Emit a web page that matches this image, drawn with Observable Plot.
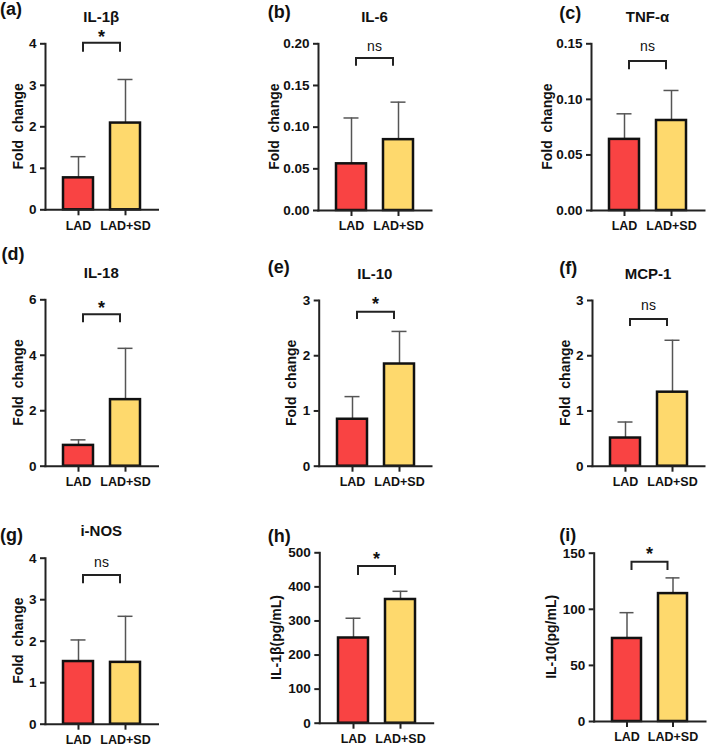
<!DOCTYPE html>
<html><head><meta charset="utf-8">
<script src="https://cdn.jsdelivr.net/npm/d3@7"></script>
<script src="https://cdn.jsdelivr.net/npm/@observablehq/plot@0.6"></script>
<style>
html,body{margin:0;padding:0;background:#fff;}
#fig{position:relative;width:709px;height:746px;overflow:hidden;font-family:"Liberation Sans",Arial,sans-serif;}
#fig svg{position:absolute;}
</style></head><body><div id="fig"></div>
<script>
// ---- data ----
const groups = ["LAD", "LAD+SD"];
const panelLetters = ["(a)", "(b)", "(c)", "(d)", "(e)", "(f)", "(g)", "(h)", "(i)"];
const titles = ["IL-1β", "IL-6", "TNF-α", "IL-18", "IL-10", "MCP-1", "i-NOS", "", ""];
const yLabels = ["Fold  change", "Fold  change", "Fold  change", "Fold  change", "Fold  change",
                 "Fold  change", "Fold  change", "IL-1β(pg/mL)", "IL-10(pg/mL)"];
const meanLAD   = [0.77, 0.056, 0.064, 0.75, 0.85, 0.51, 1.51, 250, 74];
const meanLADSD = [2.09, 0.085, 0.081, 2.40, 1.85, 1.34, 1.49, 363, 114];
const sdLAD     = [0.51, 0.055, 0.023, 0.20, 0.41, 0.29, 0.52, 58, 23];
const sdLADSD   = [1.05, 0.045, 0.027, 1.85, 0.59, 0.94, 1.11, 24, 14];
const yMax  = [4, 0.20, 0.15, 6, 3, 3, 4, 500, 150];
const yStep = [1, 0.05, 0.05, 2, 1, 1, 1, 100, 50];
const yDecimals = [0, 2, 2, 0, 0, 0, 0, 0, 0];
const significance = ["*", "ns", "ns", "*", "*", "ns", "ns", "*", "*"];

// ---- style & layout ----
const FONT = '"Liberation Sans", Arial, sans-serif';
const barColors = ["#f94343", "#fed96d"];
const layout = [
  {box:[0,0,236,245],     frame:[45,157.5,43.3,209.3],   yLab:18,    letter:[0,10],       title:16.7,  sym:32.7,  br:[42.7,51.7]},
  {box:[236,0,236,245],   frame:[318,431,43.3,210],      yLab:274.3, letter:[267.7,13],   title:16.7,  sym:47,    br:[58,65.7]},
  {box:[472,0,237,245],   frame:[591,704,43.3,210],      yLab:547,   letter:[559.3,13.3], title:16.7,  sym:47,    br:[61,69.3]},
  {box:[0,245,236,250],   frame:[45,157.5,299.3,465.7],  yLab:18,    letter:[1.5,255],    title:272.8, sym:303.3, br:[314.3,322.3]},
  {box:[236,245,236,250], frame:[318.7,431,300,465.7],   yLab:291,   letter:[267.7,267.5],title:273.3, sym:300,   br:[311.7,319]},
  {box:[472,245,237,250], frame:[592,704,300,465.7],     yLab:564.7, letter:[559.3,269],  title:273.3, sym:306,   br:[319,326]},
  {box:[0,495,236,251],   frame:[45,157.5,557.7,723.7],  yLab:18,    letter:[0,536],      title:530.3, sym:563.3, br:[575,583.3]},
  {box:[236,495,236,251], frame:[319.3,432.7,552.3,722.7],yLab:276,  letter:[267.7,537],  title:null,  sym:555,   br:[566,575]},
  {box:[472,495,237,251], frame:[593.7,705,552.7,721],   yLab:551,   letter:[559.3,536],  title:null,  sym:550,   br:[561.7,570]}
];

function annotations(i, L) {
  return (index, scales) => {
    const [bx, by] = L.box;
    const [fl, fr, ft, fb] = L.frame;
    const g = d3.create("svg:g").attr("font-family", FONT).attr("fill", "#111");
    const x = scales.x, bw = x.bandwidth();
    const c0 = x(groups[0]) + bw / 2, c1 = x(groups[1]) + bw / 2;
    const inset = 5;
    const yTop = L.br[0] - by, yEnd = L.br[1] - by;
    g.append("path")
      .attr("d", `M${c0 + inset},${yEnd}V${yTop}H${c1 - inset}V${yEnd}`)
      .attr("fill", "none").attr("stroke", "#222").attr("stroke-width", 2);
    const star = significance[i] === "*";
    g.append("text").attr("x", (c0 + c1) / 2).attr("y", L.sym - by)
      .attr("text-anchor", "middle")
      .attr("dy", star ? "0.57em" : "0.27em")
      .attr("font-size", star ? 18 : 14)
      .attr("font-weight", star ? "bold" : "normal")
      .text(significance[i]);
    g.append("text").attr("x", L.letter[0] - bx).attr("y", L.letter[1] - by)
      .attr("text-anchor", "start")
      .attr("dy", "0.3em").attr("font-size", 18).attr("font-weight", "bold")
      .text(panelLetters[i]);
    if (titles[i]) {
      g.append("text").attr("x", (fl + fr) / 2 - bx).attr("y", L.title - by)
        .attr("dy", "0.35em").attr("text-anchor", "middle")
        .attr("font-size", 15).attr("font-weight", "bold").text(titles[i]);
    }
    const ly = (ft + fb) / 2 - by, lx = L.yLab - bx;
    g.append("text").attr("transform", `translate(${lx},${ly}) rotate(-90)`)
      .attr("dy", "0.35em").attr("text-anchor", "middle")
      .style("white-space", "pre")
      .attr("font-size", 14).attr("font-weight", "bold").text(yLabels[i]);
    return g.node();
  };
}

const fig = document.getElementById("fig");
layout.forEach((L, i) => {
  const [bx, by, bw, bh] = L.box;
  const [fl, fr, ft, fb] = L.frame;
  const rows = groups.map((gname, k) => {
    const mean = k === 0 ? meanLAD[i] : meanLADSD[i];
    const sd = k === 0 ? sdLAD[i] : sdLADSD[i];
    return {group: gname, mean, upper: mean + sd};
  });
  const fmt = d3.format(yDecimals[i] ? ".2f" : "d");
  const ticks = d3.range(0, yMax[i] + yStep[i] / 2, yStep[i]);
  const chart = Plot.plot({
    width: bw, height: bh,
    marginLeft: fl - bx, marginRight: bx + bw - fr,
    marginTop: ft - by, marginBottom: by + bh - fb,
    style: {background: "transparent", fontFamily: FONT, color: "#111", overflow: "visible"},
    x: {domain: groups, padding: 0.37, label: null},
    y: {domain: [0, yMax[i]], label: null},
    color: {domain: groups, range: barColors},
    marks: [
      Plot.ruleX(rows, {x: "group", y1: "mean", y2: "upper", stroke: "#555", strokeWidth: 1.5}),
      Plot.tickY(rows, {x: "group", y: "upper", stroke: "#555", strokeWidth: 1.5, insetLeft: 7.5, insetRight: 7.5}),
      Plot.barY(rows, {x: "group", y: "mean", fill: "group", stroke: "#111", strokeWidth: 2.5}),
      Plot.axisY({ticks, tickFormat: fmt, tickSize: 5, tickPadding: 4, fontSize: 13.5, fontWeight: "bold",
                  stroke: "#222", strokeWidth: 2, label: null}),
      Plot.axisX({tickSize: 6, tickPadding: 5, fontSize: 12.5, fontWeight: "bold",
                  stroke: "#222", strokeWidth: 2, label: null}),
      Plot.frame({anchor: "left", stroke: "#222", strokeWidth: 2}),
      Plot.frame({anchor: "bottom", stroke: "#222", strokeWidth: 2}),
      annotations(i, L)
    ]
  });
  chart.style.left = bx + "px";
  chart.style.top = by + "px";
  fig.appendChild(chart);
});
</script></body></html>
